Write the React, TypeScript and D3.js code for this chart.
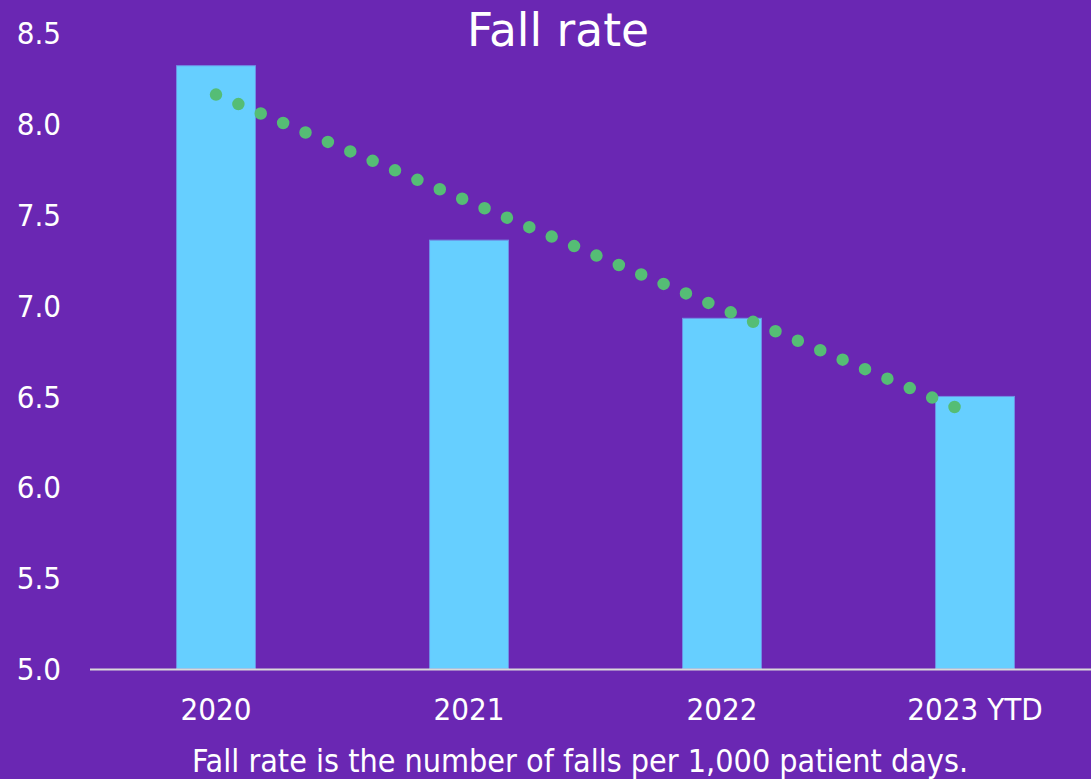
import React from "react";
import * as d3 from "d3";

const categories = ["2020", "2021", "2022", "2023 YTD"];
const values = [8.32, 7.36, 6.93, 6.5];
const yTicks = [5.0, 5.5, 6.0, 6.5, 7.0, 7.5, 8.0, 8.5];
const title = "Fall rate";
const caption = "Fall rate is the number of falls per 1,000 patient days.";

const W = 1091;
const H = 779;
const FONT = "'DejaVu Sans', sans-serif";
const FONT_C = "'DejaVu Sans Condensed', 'DejaVu Sans', sans-serif";

export default function App() {
  const x = d3.scaleBand<string>().domain(categories).range([89.5, 1101.5]).paddingInner(0.688).paddingOuter(0.344);
  const y = d3.scaleLinear().domain([5, 8.5]).range([669, 33]);

  // linear trendline (least squares over category index)
  const n = values.length;
  const xs = values.map((_, i) => i + 1);
  const mx = d3.mean(xs)!;
  const my = d3.mean(values)!;
  const slope = d3.sum(xs.map((xi, i) => (xi - mx) * (values[i] - my))) / d3.sum(xs.map((xi) => (xi - mx) ** 2));
  const icpt = my - slope * mx;
  const trend = xs.map((xi, i) => [x(categories[i])! + x.bandwidth() / 2, y(icpt + slope * xi)] as [number, number]);
  const trendPath = d3.line()([trend[0], trend[n - 1]]) || "";

  const cond = { fontStretch: "condensed" } as React.CSSProperties;

  return (
    <svg width={W} height={H} style={{ position: "absolute", left: 0, top: 0, display: "block" }}>
      <rect x={0} y={0} width={W} height={H} fill="#6a27b3" />
      <text x={558} y={46} textAnchor="middle" fill="#ffffff" fontFamily={FONT} fontSize={45.5}>
        {title}
      </text>
      {yTicks.map((t) => (
        <text key={t} x={61} y={y(t)} dy="0.36em" textAnchor="end" fill="#ffffff" fontFamily={FONT_C} style={cond} fontSize={31}>
          {t.toFixed(1)}
        </text>
      ))}
      {categories.map((c, i) => (
        <rect
          key={c}
          x={x(c)}
          y={y(values[i])}
          width={x.bandwidth()}
          height={y(5) - y(values[i])}
          fill="#66cfff"
          stroke="#6f8fe6"
          strokeWidth={1}
        />
      ))}
      <line x1={90} x2={W} y1={669.5} y2={669.5} stroke="#d9d9d9" strokeWidth={2} />
      <path d={trendPath} fill="none" stroke="#55bd75" strokeWidth={12.5} strokeLinecap="round" strokeDasharray="0 24.3" />
      {categories.map((c) => (
        <text key={c} x={x(c)! + x.bandwidth() / 2} y={720} textAnchor="middle" fill="#ffffff" fontFamily={FONT_C} style={cond} fontSize={31}>
          {c}
        </text>
      ))}
      <text x={580} y={772} textAnchor="middle" fill="#ffffff" fontFamily={FONT_C} style={cond} fontSize={32}>
        {caption}
      </text>
    </svg>
  );
}
